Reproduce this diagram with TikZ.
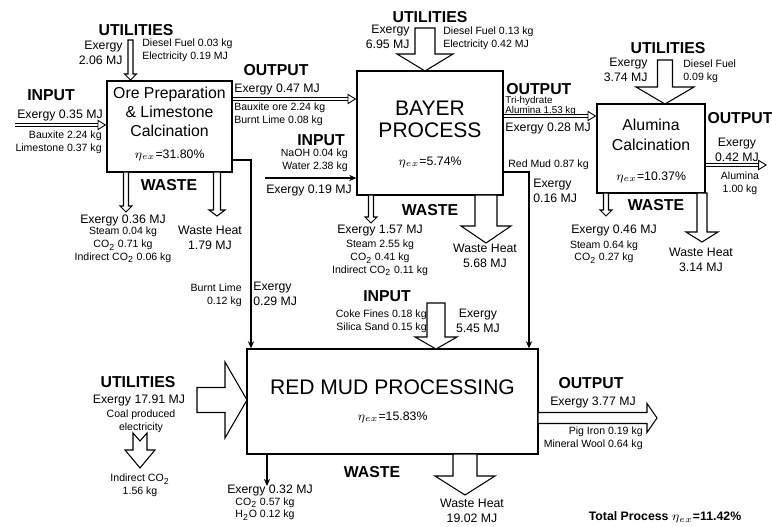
\documentclass[tikz,border=0pt]{standalone}
\usepackage{fontspec}
\setmainfont{Liberation Sans}
\usetikzlibrary{arrows.meta, positioning, calc}

% hollow block arrows: x, y start, y tip, shaft half width, head half width, head length
\newcommand{\hollowdown}[6]{%
  \draw[hollow] (#1-#4,#2) -- (#1+#4,#2) -- (#1+#4,#3-#6) -- (#1+#5,#3-#6) -- (#1,#3)
    -- (#1-#5,#3-#6) -- (#1-#4,#3-#6) -- cycle;}
% y, x start, x tip, shaft half width, head half width, head length
\newcommand{\hollowright}[6]{%
  \draw[hollow] (#2,#1-#4) -- (#3-#6,#1-#4) -- (#3-#6,#1-#5) -- (#3,#1)
    -- (#3-#6,#1+#5) -- (#3-#6,#1+#4) -- (#2,#1+#4) -- cycle;}

\begin{document}
\begin{tikzpicture}[x=0.02cm, y=-0.02cm, >=Stealth,
    procbox/.style={draw, line width=0.8pt, inner sep=0pt},
    hollow/.style={draw, fill=white, line width=0.6pt},
    head/.style={font=\fontsize{9}{10}\selectfont\bfseries, inner sep=0pt},
    title/.style={font=\fontsize{9}{10.8}\selectfont, align=center, inner sep=0pt},
    exg/.style={font=\fontsize{7}{8.5}\selectfont, inner sep=0pt},
    small/.style={font=\fontsize{6}{7.2}\selectfont, inner sep=0pt},
    flow/.style={double, double distance=1.2pt, line width=0.5pt, -{Triangle[open, length=5pt, width=6pt]}},
    feed/.style={line width=1.1pt, -{Stealth[length=4pt, width=3.5pt]}}]
  \useasboundingbox (0,0) rectangle (772,527);

  % process boxes
  \node[procbox, minimum width=2.5cm, minimum height=1.82cm] (ore) at (169.5,126.5) {};
  \node[procbox, minimum width=2.92cm, minimum height=2.48cm] (bayer) at (430,133) {};
  \node[procbox, minimum width=2.16cm, minimum height=1.78cm] (alumina) at (651,148.5) {};
  \node[procbox, minimum width=5.82cm, minimum height=2.1cm] (redmud) at (392.5,401.5) {};

  \node[title] (oretitle) at (169.5,112) {Ore Preparation\\\& Limestone\\Calcination};
  \node[exg] (oreeta) at (169.5,155) {$\eta_{ex}$=31.80\%};
  \node[title, font=\fontsize{12}{12.5}\selectfont] (bayertitle) at (430,119) {BAYER\\PROCESS};
  \node[exg] (bayereta) at (430,162) {$\eta_{ex}$=5.74\%};
  \node[title, font=\fontsize{9}{11.3}\selectfont] (alutitle) at (651,135) {Alumina\\Calcination};
  \node[exg] (alueta) at (651,177) {$\eta_{ex}$=10.37\%};
  \node[title, font=\fontsize{12}{13}\selectfont] (rmtitle) at (392.5,387) {RED MUD PROCESSING};
  \node[exg] (rmeta) at (392.5,417) {$\eta_{ex}$=15.83\%};

  % ore preparation
  \node[head] (oreutil) at (136,30) {UTILITIES};
  \node[exg, align=right, anchor=east] (oreutilex) at (123,52.5) {Exergy\\2.06 MJ};
  \node[small, align=left, anchor=west] (oreutilin) at (142,50.5) {Diesel Fuel 0.03 kg\\Electricity 0.19 MJ};
  \hollowdown{130.5}{40}{80}{2.5}{6}{6}
  \node[head] (orein) at (51,95) {INPUT};
  \node[exg] (oreinex) at (60,115) {Exergy 0.35 MJ};
  \coordinate (orefeed) at (15,125);
  \draw[flow] (orefeed) -- (ore.west |- orefeed);
  \node[small, align=right, anchor=east] (oreinmat) at (102,142) {Bauxite 2.24 kg\\Limestone 0.37 kg};
  \hollowdown{126}{172}{212}{2.5}{6}{6}
  \hollowdown{217}{172}{216}{3.5}{8}{6}
  \node[head] (orewaste) at (169,185) {WASTE};
  \node[exg] (orewasteex) at (123,220) {Exergy 0.36 MJ};
  \node[small, align=center] (orewastemat) at (123,245) {Steam 0.04 kg\\CO\textsubscript{2} 0.71 kg\\Indirect CO\textsubscript{2} 0.06 kg};
  \node[exg, align=center] (oreheat) at (210,237.5) {Waste Heat\\1.79 MJ};

  % ore to bayer
  \node[head] (oreout) at (276,70) {OUTPUT};
  \node[exg, anchor=west] (oreoutex) at (234,89) {Exergy 0.47 MJ};
  \draw[flow] (ore.east |- 0,99) -- (bayer.west |- 0,99);
  \node[small, align=left, anchor=west] (oreoutmat) at (234,114) {Bauxite ore 2.24 kg\\Burnt Lime 0.08 kg};
  \draw[feed] (ore.east |- 0,160) -- (251,160) -- (251,0 |- redmud.north);
  \node[small, align=right, anchor=east] (limemat) at (242,295) {Burnt Lime\\0.12 kg};
  \node[exg, align=left, anchor=west] (limeex) at (253,294) {Exergy\\0.29 MJ};

  % bayer process
  \node[head] (bayerin) at (321,140) {INPUT};
  \node[small, align=right, anchor=east] (bayerinmat) at (348,160.5) {NaOH 0.04 kg\\Water 2.38 kg};
  \coordinate (naoh) at (265,178);
  \draw[feed] (naoh) -- (bayer.west |- naoh);
  \node[exg] (bayerinex) at (309,190) {Exergy 0.19 MJ};
  \node[head] (bayerutil) at (430,17) {UTILITIES};
  \node[exg, align=right, anchor=east] (bayerutilex) at (410,37) {Exergy\\6.95 MJ};
  \node[small, align=left, anchor=west] (bayerutilin) at (443,38.5) {Diesel Fuel 0.13 kg\\Electricity 0.42 MJ};
  \hollowdown{425}{28}{71}{10}{28}{17}
  \node[head, anchor=west] (bayerout) at (506,89) {OUTPUT};
  \node[small, align=left, anchor=west, font=\fontsize{5.6}{5.8}\selectfont] (bayeroutmat) at (505,106) {Tri-hydrate\\Alumina 1.53 kg};
  \draw[flow] (bayer.east |- 0,116) -- (alumina.west |- 0,116);
  \node[exg, anchor=west] (bayeroutex) at (505,128) {Exergy 0.28 MJ};
  \draw[feed] (bayer.east |- 0,172) -- (529,172) -- (529,0 |- redmud.north);
  \node[small, anchor=west] (mudmat) at (508,165) {Red Mud 0.87 kg};
  \node[exg, align=left, anchor=west] (mudex) at (533,191) {Exergy\\0.16 MJ};
  \hollowdown{371}{195}{223}{2.5}{6}{6}
  \node[head] (bayerwaste) at (430,210) {WASTE};
  \node[exg] (bayerwasteex) at (380,231) {Exergy 1.57 MJ};
  \node[small, align=center] (bayerwastemat) at (380,258) {Steam 2.55 kg\\CO\textsubscript{2} 0.41 kg\\Indirect CO\textsubscript{2} 0.11 kg};
  \hollowdown{486}{195}{243}{11}{25}{17}
  \node[exg, align=center] (bayerheat) at (485,256) {Waste Heat\\5.68 MJ};

  % alumina calcination
  \node[head] (aluutil) at (668,48) {UTILITIES};
  \node[exg, align=right, anchor=east] (aluutilex) at (648,69.5) {Exergy\\3.74 MJ};
  \node[small, align=left, anchor=west] (aluutilin) at (683,71) {Diesel Fuel\\0.09 kg};
  \hollowdown{665}{60}{104}{7.5}{29}{17}
  \node[head] (aluout) at (740,118) {OUTPUT};
  \node[exg, align=center] (aluoutex) at (737,149.5) {Exergy\\0.42 MJ};
  \draw[flow] (alumina.east |- 0,165) -- (767,165);
  \node[small, align=center] (aluoutmat) at (740,183.5) {Alumina\\1.00 kg};
  \hollowdown{606}{193}{216}{2.5}{6}{6}
  \node[head] (aluwaste) at (656,205) {WASTE};
  \node[exg] (aluwasteex) at (614,230) {Exergy 0.46 MJ};
  \node[small, align=center] (aluwastemat) at (604,252) {Steam 0.64 kg\\CO\textsubscript{2} 0.27 kg};
  \hollowdown{702}{193}{242}{5}{16}{10}
  \node[exg, align=center] (aluheat) at (701,259.5) {Waste Heat\\3.14 MJ};

  % red mud processing
  \node[head] (rmin) at (387,296) {INPUT};
  \node[small, align=right, anchor=east] (rminmat) at (427,321) {Coke Fines 0.18 kg\\Silica Sand 0.15 kg};
  \hollowdown{436}{303}{349}{9}{21}{12}
  \node[exg, align=center] (rminex) at (478,320.5) {Exergy\\5.45 MJ};
  \node[head] (rmutil) at (138,382) {UTILITIES};
  \node[exg] (rmutilex) at (139,400) {Exergy 17.91 MJ};
  \node[small, align=center] (rmutilin) at (141,421.5) {Coal produced\\electricity};
  \hollowright{400}{197}{247}{12.5}{38}{22}
  \draw[hollow] (133,433) -- (140,441) -- (147,433) -- (147,450) -- (155,450) -- (140,468)
    -- (125,450) -- (133,450) -- cycle;
  \node[small, align=center] (rmutilco) at (140,485.5) {Indirect CO\textsubscript{2}\\1.56 kg};
  \draw[feed] (redmud.south -| 267,0) -- (267,486);
  \node[head] (rmwaste) at (372,472) {WASTE};
  \node[exg] (rmwasteex) at (270,490) {Exergy 0.32 MJ};
  \node[small, align=center] (rmwastemat) at (265,509) {CO\textsubscript{2} 0.57 kg\\H\textsubscript{2}O 0.12 kg};
  \hollowdown{465}{454}{495}{12}{30}{19}
  \node[exg, align=center] (rmheat) at (472,510.5) {Waste Heat\\19.02 MJ};
  \node[head] (rmout) at (591,383) {OUTPUT};
  \node[exg] (rmoutex) at (593,402) {Exergy 3.77 MJ};
  \hollowright{418}{538}{657}{5.5}{14.5}{10}
  \node[small, align=right, anchor=east] (rmoutmat) at (643,438) {Pig Iron 0.19 kg\\Mineral Wool 0.64 kg};

  \node[exg, font=\fontsize{7}{8}\selectfont\bfseries] (total) at (665,517) {Total Process $\eta_{ex}$=11.42\%};
\end{tikzpicture}
\end{document}
